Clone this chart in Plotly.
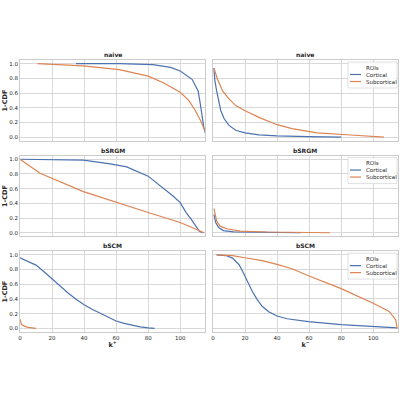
import plotly.graph_objects as go
from plotly.subplots import make_subplots

# values (k, 1-CDF)
naive_kp_cort_k = [35, 62, 83, 94, 100, 104, 107.4, 109.5, 111.2, 112.2, 113.3, 114.7, 115.8]
naive_kp_cort_y = [1.0, 1.0, 0.987, 0.95, 0.90, 0.845, 0.787, 0.70, 0.63, 0.50, 0.32, 0.14, 0.05]
naive_kp_sub_k = [11, 39.5, 62, 80, 89.5, 100, 105.3, 109.5, 112.6, 114.7, 116]
naive_kp_sub_y = [1.0, 0.97, 0.92, 0.83, 0.74, 0.61, 0.50, 0.36, 0.23, 0.12, 0.06]

naive_km_cort_k = [0.6, 1.2, 2.3, 3.5, 4.9, 7, 10, 14.2, 20, 28.7, 40, 59.6, 80]
naive_km_cort_y = [0.94, 0.77, 0.63, 0.50, 0.36, 0.25, 0.16, 0.094, 0.058, 0.031, 0.018, 0.009, 0.0]
naive_km_sub_k = [0.6, 2.9, 6, 10, 14.2, 20, 28.7, 40, 49.3, 65, 86, 106.7]
naive_km_sub_y = [0.94, 0.785, 0.63, 0.52, 0.43, 0.36, 0.27, 0.17, 0.116, 0.06, 0.03, 0.0]

bsrgm_kp_cort_k = [0.4, 20, 39.6, 56.3, 66.6, 80, 89.3, 95.5, 100, 103.7, 106.8, 109.5, 112, 114]
bsrgm_kp_cort_y = [1.0, 0.998, 0.987, 0.937, 0.896, 0.77, 0.61, 0.50, 0.41, 0.275, 0.185, 0.095, 0.02, 0.0]
bsrgm_kp_sub_k = [0, 12.5, 39.6, 56.3, 80, 100, 105.8, 111, 115]
bsrgm_kp_sub_y = [1.0, 0.81, 0.56, 0.44, 0.275, 0.14, 0.086, 0.027, 0.0]

bsrgm_km_cort_k = [0.6, 1.7, 3.5, 6.5, 12.8, 54.7]
bsrgm_km_cort_y = [0.25, 0.14, 0.07, 0.03, 0.013, 0.0]
bsrgm_km_sub_k = [0.6, 2.3, 4.4, 8.6, 17, 33.8, 73]
bsrgm_km_sub_y = [0.33, 0.16, 0.09, 0.054, 0.023, 0.01, 0.0]

bscm_kp_cort_k = [0, 5, 10, 15, 20, 25, 30, 35, 40, 45, 50, 55, 60, 65, 70, 75, 80, 84]
bscm_kp_cort_y = [0.96, 0.915, 0.86, 0.77, 0.67, 0.57, 0.48, 0.395, 0.32, 0.26, 0.21, 0.15, 0.10,
                  0.067, 0.04, 0.02, 0.005, 0.0]
bscm_kp_sub_k = [0, 1, 3, 5, 10]
bscm_kp_sub_y = [0.126, 0.05, 0.027, 0.013, 0.0]

bscm_km_cort_k = [2.3, 8, 12.2, 16.3, 18.4, 20.4, 22.5, 24.5, 27.6, 30.7, 34.8, 40, 46.2, 53.4,
                  59.6, 80, 100, 115]
bscm_km_cort_y = [1.0, 0.99, 0.955, 0.865, 0.78, 0.69, 0.595, 0.505, 0.39, 0.30, 0.225, 0.167,
                  0.13, 0.104, 0.09, 0.05, 0.027, 0.005]
bscm_km_sub_k = [2.3, 12.2, 20, 30.7, 40, 49.3, 59.6, 80, 100, 110, 114, 115]
bscm_km_sub_y = [1.0, 0.99, 0.96, 0.92, 0.87, 0.81, 0.716, 0.54, 0.34, 0.23, 0.117, 0.0]

models = ["naive", "bSRGM", "bSCM"]
roi_names = ["Cortical", "Subcortical"]
yticks = [0.0, 0.2, 0.4, 0.6, 0.8, 1.0]
xticks = [0, 20, 40, 60, 80, 100]

BLUE = "#4c72b0"
ORANGE = "#dd8452"
GRID = "#d9d9d9"
TXT = "#262626"
FONT = "DejaVu Sans"
W, H = 400, 400
ML, MR, MT, MB = 20, 2, 60, 68

panels = [
    [(naive_kp_cort_k, naive_kp_cort_y, naive_kp_sub_k, naive_kp_sub_y),
     (naive_km_cort_k, naive_km_cort_y, naive_km_sub_k, naive_km_sub_y)],
    [(bsrgm_kp_cort_k, bsrgm_kp_cort_y, bsrgm_kp_sub_k, bsrgm_kp_sub_y),
     (bsrgm_km_cort_k, bsrgm_km_cort_y, bsrgm_km_sub_k, bsrgm_km_sub_y)],
    [(bscm_kp_cort_k, bscm_kp_cort_y, bscm_kp_sub_k, bscm_kp_sub_y),
     (bscm_km_cort_k, bscm_km_cort_y, bscm_km_sub_k, bscm_km_sub_y)],
]

fig = make_subplots(rows=3, cols=2, shared_xaxes=True, shared_yaxes=True,
                    vertical_spacing=0.054, horizontal_spacing=0.021)

for r in range(3):
    for c in range(2):
        ck, cy, sk, sy = panels[r][c]
        fig.add_trace(go.Scatter(x=ck, y=cy, mode="lines", name=roi_names[0],
                                 line=dict(color=BLUE, width=1.2), showlegend=False),
                      row=r + 1, col=c + 1)
        fig.add_trace(go.Scatter(x=sk, y=sy, mode="lines", name=roi_names[1],
                                 line=dict(color=ORANGE, width=1.2), showlegend=False),
                      row=r + 1, col=c + 1)

fig.update_xaxes(range=[0, 115.5], tickvals=xticks, showgrid=True, gridcolor=GRID,
                 gridwidth=0.7, showline=True, linecolor="#cccccc", linewidth=0.8,
                 mirror=True, zeroline=False, ticks="", automargin=False,
                 tickfont=dict(size=5.5, color=TXT, family=FONT))
fig.update_yaxes(range=[-0.05, 1.05], tickvals=yticks, ticktext=["0.0", "0.2", "0.4", "0.6", "0.8", "1.0"],
                 showgrid=True, gridcolor=GRID, gridwidth=0.7, showline=True,
                 linecolor="#cccccc", linewidth=0.8, mirror=True, zeroline=False, ticks="",
                 automargin=False, tickfont=dict(size=5.5, color=TXT, family=FONT))

fig.update_xaxes(title_text="<b>k<sup>+</sup></b>", title_font=dict(size=6.5, color=TXT, family=FONT),
                 title_standoff=0, row=3, col=1)
fig.update_xaxes(title_text="<b>k<sup>−</sup></b>", title_font=dict(size=6.5, color=TXT, family=FONT),
                 title_standoff=0, row=3, col=2)


def px_x(px):
    return (px - ML) / (W - ML - MR)


def px_y(py):
    return (H - MB - py) / (H - MT - MB)


def paper_to_py(p):
    return H - MB - p * (H - MT - MB)


# panel titles and y titles
for r in range(3):
    for c in range(2):
        idx = r * 2 + c + 1
        xa = fig.layout["xaxis" + ("" if idx == 1 else str(idx))]
        ya = fig.layout["yaxis" + ("" if idx == 1 else str(idx))]
        fig.add_annotation(text="<b>" + models[r] + "</b>", showarrow=False,
                           x=sum(xa.domain) / 2, y=ya.domain[1], xref="paper", yref="paper",
                           xanchor="center", yanchor="bottom", yshift=0,
                           font=dict(size=6, color=TXT, family=FONT))
        if c == 0:
            fig.add_annotation(text="<b>1-CDF</b>", showarrow=False, textangle=-90,
                               x=px_x(5), y=sum(ya.domain) / 2, xref="paper", yref="paper",
                               xanchor="center", yanchor="middle",
                               font=dict(size=6.5, color=TXT, family=FONT))

# legend boxes drawn by hand (plotly's legend rows are too tall at this size)
for r in range(3):
    ya = fig.layout["yaxis" + str(r * 2 + 2)]
    top = paper_to_py(ya.domain[1])
    fig.add_shape(type="rect", xref="paper", yref="paper",
                  x0=px_x(348), x1=px_x(397), y0=px_y(top + 2), y1=px_y(top + 28),
                  line=dict(color="#cccccc", width=0.6), fillcolor="rgba(255,255,255,0.85)")
    fig.add_annotation(text="ROIs", showarrow=False, xref="paper", yref="paper",
                       x=px_x(372.5), y=px_y(top + 7.5), xanchor="center", yanchor="middle",
                       font=dict(size=5.5, color=TXT, family=FONT))
    for i, (name, col) in enumerate(zip(roi_names, [BLUE, ORANGE])):
        ly = top + 14.5 + i * 7
        fig.add_shape(type="line", xref="paper", yref="paper",
                      x0=px_x(350), x1=px_x(361), y0=px_y(ly), y1=px_y(ly),
                      line=dict(color=col, width=1.2))
        fig.add_annotation(text=name, showarrow=False, xref="paper", yref="paper",
                           x=px_x(364), y=px_y(ly), xanchor="left", yanchor="middle",
                           font=dict(size=5.5, color=TXT, family=FONT))

fig.update_layout(
    width=W, height=H,
    margin=dict(l=ML, r=MR, t=MT, b=MB),
    plot_bgcolor="white", paper_bgcolor="white",
    font=dict(family=FONT, color=TXT),
    showlegend=False,
)

# drop the browser's default 8px body margin so the 400x400 figure fills the window
fig.write_html("out.html", config={"displayModeBar": False},
               post_script="document.body.style.margin='0';")
